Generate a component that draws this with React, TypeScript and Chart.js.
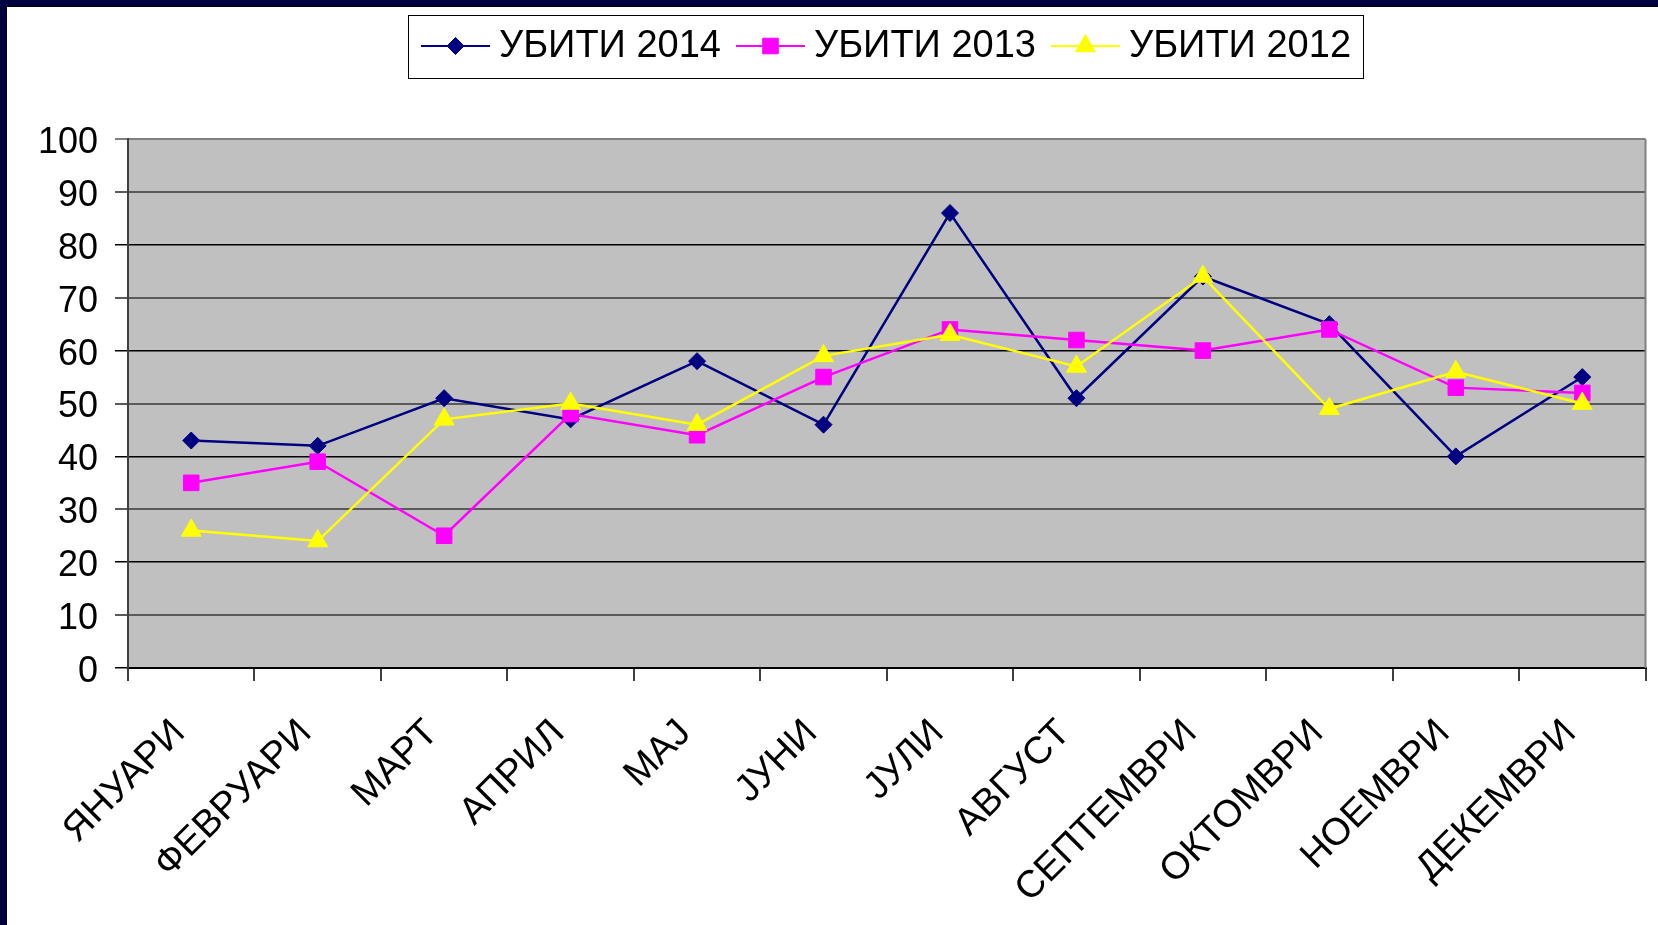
import { useEffect, useRef } from "react";
import { Chart, registerables } from "chart.js";
import { drawPoint } from "chart.js/helpers";

Chart.register(...registerables);

const months = [
  "ЯНУАРИ",
  "ФЕВРУАРИ",
  "МАРТ",
  "АПРИЛ",
  "МАЈ",
  "ЈУНИ",
  "ЈУЛИ",
  "АВГУСТ",
  "СЕПТЕМВРИ",
  "ОКТОМВРИ",
  "НОЕМВРИ",
  "ДЕКЕМВРИ",
];

const killed2014 = [43, 42, 51, 47, 58, 46, 86, 51, 74, 65, 40, 55];
const killed2013 = [35, 39, 25, 48, 44, 55, 64, 62, 60, 64, 53, 52];
const killed2012 = [26, 24, 47, 50, 46, 59, 63, 57, 74, 49, 56, 50];

const yTicks = { min: 0, max: 100, step: 10 };

const FONT = "'Liberation Sans', Arial, sans-serif";

const plotBgPlugin = {
  id: "plotBg",
  beforeDraw(chart: any) {
    const { ctx, chartArea } = chart;
    ctx.save();
    ctx.fillStyle = "#c0c0c0";
    ctx.fillRect(chartArea.left, chartArea.top, chartArea.right - chartArea.left, chartArea.bottom - chartArea.top);
    ctx.restore();
  },
  afterDraw(chart: any) {
    const { ctx, chartArea } = chart;
    ctx.save();
    ctx.strokeStyle = "#808080";
    ctx.lineWidth = 2;
    ctx.beginPath();
    ctx.moveTo(chartArea.right, chartArea.top);
    ctx.lineTo(chartArea.right, chartArea.bottom);
    ctx.stroke();
    ctx.restore();
  },
};

const boxLegendPlugin = {
  id: "boxLegend",
  afterDraw(chart: any) {
    const ctx = chart.ctx;
    ctx.save();
    ctx.font = `38px ${FONT}`;
    const lineW = 69;
    const gapText = 9;
    const gapItem = 15;
    const items = chart.data.datasets.map((ds: any) => ({ ds, w: ctx.measureText(ds.label).width }));
    const total =
      items.reduce((s: number, it: any) => s + lineW + gapText + it.w, 0) + gapItem * (items.length - 1);
    const cx = 886;
    const cy = 46;
    let x = cx - total / 2;
    const boxL = Math.round(x - 13);
    const boxR = Math.round(x + total + 12);
    ctx.fillStyle = "#ffffff";
    ctx.fillRect(boxL, 15, boxR - boxL, 63);
    ctx.strokeStyle = "#000000";
    ctx.lineWidth = 1;
    ctx.strokeRect(boxL + 0.5, 15.5, boxR - boxL, 63);
    items.forEach((it: any) => {
      const ds = it.ds;
      ctx.strokeStyle = ds.borderColor;
      ctx.lineWidth = 2;
      ctx.beginPath();
      ctx.moveTo(x, cy);
      ctx.lineTo(x + lineW, cy);
      ctx.stroke();
      ctx.fillStyle = ds.pointBackgroundColor;
      ctx.strokeStyle = ds.pointBorderColor;
      ctx.lineWidth = 1;
      drawPoint(ctx, { pointStyle: ds.pointStyle, radius: ds.pointRadius, rotation: 0, borderWidth: 1 } as any, x + lineW / 2, cy);
      ctx.fillStyle = "#000000";
      ctx.textAlign = "left";
      ctx.textBaseline = "middle";
      ctx.fillText(ds.label, x + lineW + gapText, cy + 1);
      x += lineW + gapText + it.w + gapItem;
    });
    ctx.restore();
  },
};

export default function App() {
  const canvasRef = useRef<HTMLCanvasElement | null>(null);

  useEffect(() => {
    const canvas = canvasRef.current;
    if (!canvas) return;
    const mk = (label: string, data: number[], color: string, style: string, radius: number, order: number) => ({
      label,
      data,
      borderColor: color,
      backgroundColor: color,
      pointBackgroundColor: color,
      pointBorderColor: color,
      pointBorderWidth: 1,
      pointStyle: style,
      pointRadius: radius,
      pointHoverRadius: radius,
      borderWidth: 2.5,
      tension: 0,
      fill: false,
      order,
    });
    const chart = new Chart(canvas, {
      type: "line",
      data: {
        labels: months,
        datasets: [
          mk("УБИТИ 2014", killed2014, "#000080", "rectRot", 8.5, 3),
          mk("УБИТИ 2013", killed2013, "#ff00ff", "rect", 11, 2),
          mk("УБИТИ 2012", killed2012, "#ffff00", "triangle", 11.5, 1),
        ],
      },
      options: {
        animation: false,
        responsive: false,
        devicePixelRatio: 1,
        layout: { padding: { top: 139, left: 0, right: 10, bottom: 0 } },
        plugins: {
          legend: { display: false },
          tooltip: { enabled: false },
        },
        scales: {
          x: {
            type: "category",
            offset: true,
            grid: {
              offset: true,
              drawOnChartArea: false,
              drawTicks: true,
              tickLength: 13,
              color: "#404040",
              lineWidth: 2,
            },
            border: { display: true, color: "#000000", width: 2 },
            ticks: {
              color: "#000000",
              font: { family: FONT, size: 38 },
              maxRotation: 45,
              minRotation: 45,
              autoSkip: false,
              padding: 30,
              labelOffset: -12,
            },
            afterFit: (s: any) => {
              s.height = 257;
            },
          },
          y: {
            min: yTicks.min,
            max: yTicks.max,
            ticks: {
              stepSize: yTicks.step,
              color: "#000000",
              font: { family: FONT, size: 36 },
              padding: 17,
              labelOffset: 4,
            },
            grid: {
              drawTicks: true,
              tickLength: 13,
              color: (c: any) => {
                const v = c.tick ? c.tick.value : 0;
                if (v === 100) return "#808080";
                return v % 20 === 0 ? "#000000" : "#5a5a5a";
              },
              lineWidth: (c: any) => {
                const v = c.tick ? c.tick.value : 0;
                return v % 20 === 0 && v !== 100 ? 1.5 : 2;
              },
            },
            border: { display: true, color: "#404040", width: 2 },
            afterFit: (s: any) => {
              s.width = 128;
            },
          },
        },
      },
      plugins: [plotBgPlugin, boxLegendPlugin],
    } as any);
    return () => chart.destroy();
  }, []);

  return (
    <div
      style={{
        position: "fixed",
        left: 0,
        top: 0,
        width: 1658,
        height: 925,
        background: "#ffffff",
        overflow: "hidden",
      }}
    >
      <div style={{ position: "absolute", left: 0, top: 0, width: 1658, height: 6, background: "#000040" }} />
      <div style={{ position: "absolute", left: 0, top: 6, width: 1658, height: 1, background: "#000000" }} />
      <div style={{ position: "absolute", left: 0, top: 0, width: 6, height: 925, background: "#000040" }} />
      <div style={{ position: "absolute", left: 6, top: 6, width: 1, height: 919, background: "#000000" }} />
      <canvas
        ref={canvasRef}
        width={1658}
        height={925}
        style={{ position: "absolute", left: 0, top: 0, width: 1658, height: 925 }}
      />
    </div>
  );
}
